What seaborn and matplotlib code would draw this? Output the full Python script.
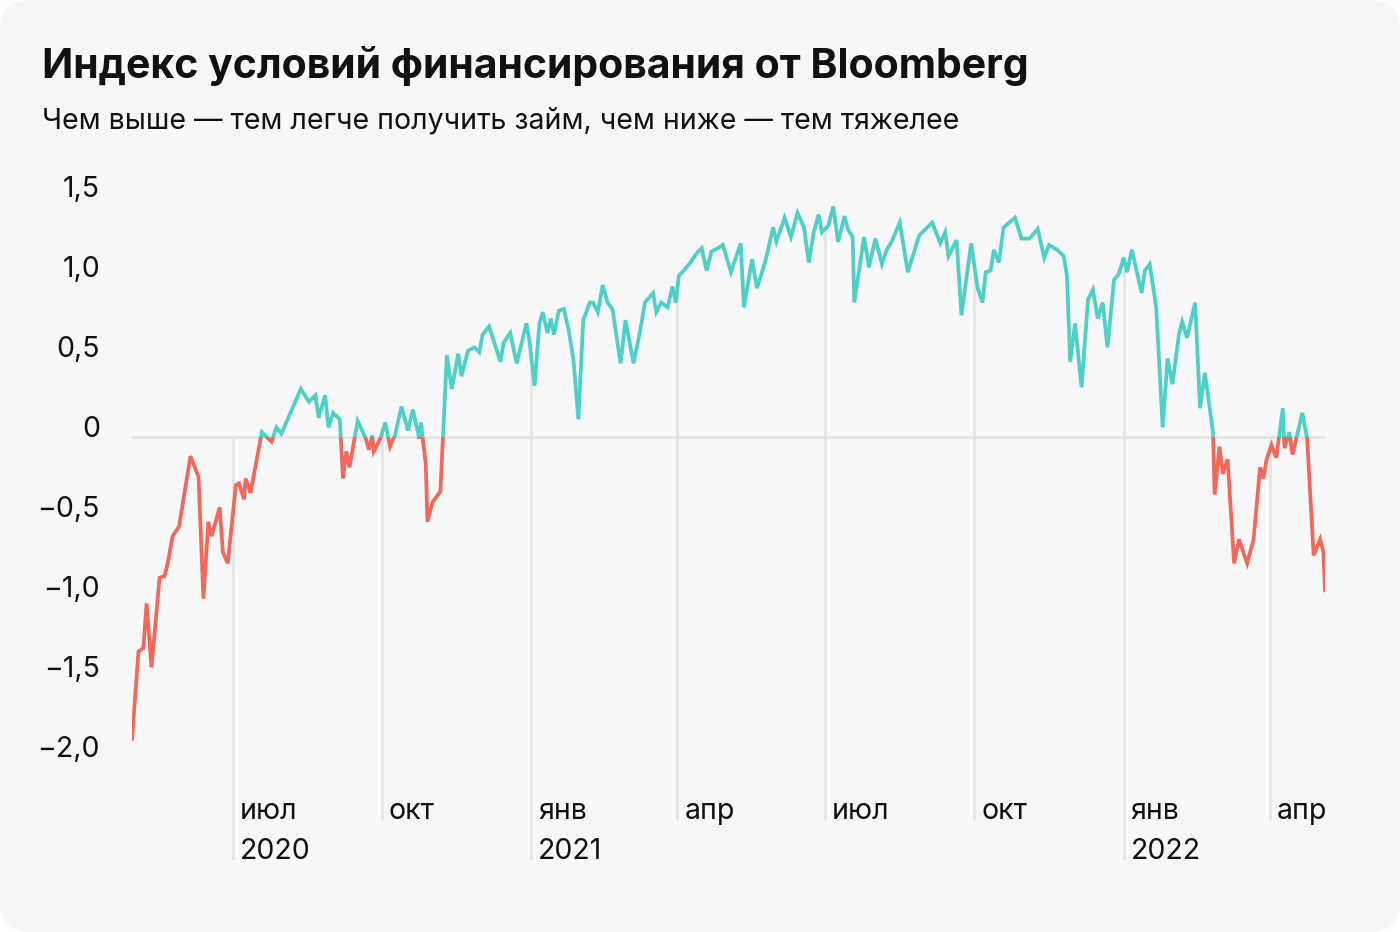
import numpy as np
import pandas as pd
import seaborn as sns
import matplotlib.pyplot as plt
import matplotlib.dates as mdates
from matplotlib import transforms
from matplotlib.patches import Rectangle, FancyBboxPatch

# Bloomberg financial conditions index
start = pd.Timestamp("2020-04-30")
days = [0, 4, 7, 9, 12, 17, 20, 22, 25, 29, 36, 41, 44, 47, 49, 54, 56, 59, 64, 66,
        69, 70, 73, 80, 86, 89, 92, 104, 109, 113, 115, 119, 121, 124, 128, 130, 132, 134, 139, 144,
        146, 148, 149, 153, 156, 159, 162, 166, 170, 173, 177, 178, 181, 182, 185, 190, 194, 197, 201, 203,
        207, 211, 214, 216, 220, 227, 229, 233, 237, 243, 245, 248, 251, 253, 256, 258, 260, 263, 266, 269,
        272, 275, 278, 282, 284, 287, 290, 293, 296, 301, 304, 309, 313, 316, 321, 323, 326, 330, 333, 335,
        337, 340, 344, 348, 351, 354, 357, 361, 364, 369, 375, 377, 382, 385, 390, 395, 397, 402, 406, 410,
        414, 417, 420, 423, 425, 429, 432, 435, 439, 441, 444, 445, 451, 454, 458, 462, 465, 468, 473, 478,
        485, 493, 498, 501, 503, 508, 511, 517, 521, 524, 526, 529, 531, 534, 537, 544, 548, 553, 558, 562,
        565, 570, 574, 576, 578, 581, 585, 589, 592, 595, 598, 601, 605, 608, 611, 613, 616, 622, 624, 627,
        631, 635, 638, 641, 645, 647, 650, 655, 658, 661, 666, 667, 670, 672, 675, 679, 682, 687, 691, 695,
        697, 699, 702, 705, 709, 710, 713, 715, 721, 724, 728, 732, 734, 735]
values = [-1.89, -1.34, -1.32, -1.04, -1.44, -0.88, -0.87, -0.79, -0.62, -0.56, -0.12, -0.25, -1.01, -0.53, -0.62, -0.44, -0.72, -0.79, -0.30, -0.29,
          -0.39, -0.26, -0.35, 0.03, -0.03, 0.06, 0.02, 0.30, 0.22, 0.26, 0.12, 0.26, 0.06, 0.15, 0.11, -0.26, -0.09, -0.19, 0.10, -0.01,
          -0.08, 0.01, -0.09, -0.01, 0.09, -0.06, 0.01, 0.19, 0.04, 0.17, -0.01, 0.09, -0.17, -0.53, -0.41, -0.34, 0.51, 0.30, 0.52, 0.38,
          0.54, 0.56, 0.53, 0.64, 0.69, 0.47, 0.59, 0.65, 0.46, 0.71, 0.59, 0.32, 0.71, 0.78, 0.65, 0.74, 0.64, 0.79, 0.80, 0.67,
          0.48, 0.11, 0.73, 0.84, 0.84, 0.78, 0.95, 0.84, 0.80, 0.46, 0.73, 0.46, 0.66, 0.84, 0.90, 0.78, 0.84, 0.81, 0.94, 0.84,
          1.01, 1.04, 1.09, 1.15, 1.18, 1.04, 1.16, 1.18, 1.20, 1.03, 1.21, 0.81, 1.11, 0.93, 1.09, 1.31, 1.22, 1.37, 1.25, 1.40,
          1.31, 1.09, 1.28, 1.39, 1.28, 1.32, 1.44, 1.22, 1.38, 1.30, 1.25, 0.84, 1.25, 1.06, 1.24, 1.08, 1.17, 1.22, 1.34, 1.03,
          1.26, 1.34, 1.21, 1.28, 1.13, 1.23, 0.76, 1.21, 0.93, 0.84, 1.03, 1.04, 1.17, 1.09, 1.31, 1.37, 1.24, 1.24, 1.30, 1.12,
          1.20, 1.17, 1.13, 1.01, 0.47, 0.71, 0.31, 0.86, 0.92, 0.74, 0.84, 0.56, 0.98, 1.02, 1.12, 1.03, 1.17, 0.90, 1.04, 1.08,
          0.81, 0.06, 0.49, 0.33, 0.64, 0.72, 0.62, 0.84, 0.18, 0.40, 0.03, -0.36, -0.06, -0.23, -0.14, -0.79, -0.64, -0.79, -0.64, -0.19,
          -0.26, -0.14, -0.05, -0.13, 0.18, -0.07, 0.03, -0.11, 0.15, -0.01, -0.74, -0.64, -0.72, -0.96]

tick_dates = ["2020-07-01", "2020-10-01", "2021-01-01", "2021-04-01",
              "2021-07-01", "2021-10-01", "2022-01-01", "2022-04-01"]
month_labels = ["июл", "окт", "янв", "апр", "июл", "окт", "янв", "апр"]
year_labels = ["2020", "", "2021", "", "", "", "2022", ""]
y_ticks = [1.5, 1.0, 0.5, 0, -0.5, -1.0, -1.5, -2.0]
y_labels = ["1,5", "1,0", "0,5", "0", "−0,5", "−1,0", "−1,5", "−2,0"]

df = pd.DataFrame({"date": start + pd.to_timedelta(days, unit="D"), "value": values})

sns.set_style("white")
plt.rcParams["font.family"] = ["Inter", "DejaVu Sans"]

teal = "#4FD0C6"
red = "#F2685A"
grid = "#E2E2E2"
ink = "#111111"

fig = plt.figure(figsize=(14, 9.32), dpi=100)
fig.patch.set_facecolor("white")
card = FancyBboxPatch((0, 0), 1400, 932, boxstyle="round,pad=0,rounding_size=30",
                      transform=transforms.IdentityTransform(),
                      facecolor="#F8F8F8", edgecolor="none", zorder=-10)
fig.patches.append(card)

ax = fig.add_axes([132 / 1400, 1 - 860 / 932, (1325 - 132) / 1400, (860 - 180) / 932])
ax.set_facecolor("none")
ymin, ymax = -2.644, 1.606
ax.set_ylim(ymin, ymax)
ax.set_xlim(df["date"].iloc[0], df["date"].iloc[-1])
for s in ax.spines.values():
    s.set_visible(False)
ax.set_xticks([])
ax.set_yticks([])

# zero line
ax.axhline(0, color=grid, lw=1.8, zorder=1)

# vertical month lines from the curve down to the labels
xnum = mdates.date2num(df["date"])
for d, yl in zip(tick_dates, year_labels):
    xd = mdates.date2num(pd.Timestamp(d))
    top = max(np.interp(xd, xnum, df["value"]), 0)
    bottom = ymin if yl else -2.394
    ax.vlines(pd.Timestamp(d), bottom, top, color=grid, lw=1.8, zorder=1)

# line, teal above zero and red below
blend = transforms.blended_transform_factory(ax.transAxes, ax.transData)
for col, rect in [(teal, Rectangle((0, 0), 1, 10, transform=blend)),
                  (red, Rectangle((0, -10), 1, 10, transform=blend))]:
    sns.lineplot(data=df, x="date", y="value", ax=ax, color=col, linewidth=2.7,
                 estimator=None, zorder=3)
    ln = ax.lines[-1]
    ln.set_clip_path(rect)
    ln.set_solid_joinstyle("miter")

# y labels
up = transforms.ScaledTranslation(0, 7 / 100, fig.dpi_scale_trans)
ylab_tr = transforms.blended_transform_factory(fig.transFigure, ax.transData) + up
for v, lab in zip(y_ticks, y_labels):
    ax.text(100 / 1400, v, lab, transform=ylab_tr, ha="right", va="center",
            fontsize=20.5, color=ink)

# x labels
right = transforms.ScaledTranslation(7 / 100, 0, fig.dpi_scale_trans)
for d, m, yl in zip(tick_dates, month_labels, year_labels):
    ax.text(pd.Timestamp(d), -2.338, m, transform=ax.transData + right,
            ha="left", va="center", fontsize=20.5, color=ink)
    if yl:
        ax.text(pd.Timestamp(d), -2.588, yl, transform=ax.transData + right,
                ha="left", va="center", fontsize=20.5, color=ink)

fig.text(42 / 1400, 1 - 66 / 932, "Индекс условий финансирования от Bloomberg",
         fontsize=29.5, fontweight="bold", color=ink, ha="left", va="center")
fig.text(42 / 1400, 1 - 121 / 932, "Чем выше — тем легче получить займ, чем ниже — тем тяжелее",
         fontsize=20.5, color=ink, ha="left", va="center")

fig.savefig("out.png", dpi=100)
